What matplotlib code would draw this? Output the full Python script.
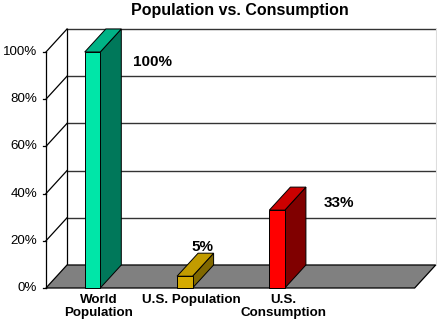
import matplotlib
matplotlib.use("Agg")
import matplotlib.pyplot as plt
from matplotlib.patches import Polygon

plt.rcParams['font.family'] = ['Liberation Sans', 'DejaVu Sans']

# data
categories = ['World\nPopulation', 'U.S. Population', 'U.S.\nConsumption']
values = [100, 5, 33]
value_labels = ['100%', '5%', '33%']
yticks = [0, 20, 40, 60, 80, 100]

# colours per bar: front, top, side
front_colors = ['#00e6a8', '#d4aa00', '#ff0000']
top_colors = ['#00b386', '#c29c00', '#cc0000']
side_colors = ['#00785a', '#806800', '#800000']

# fake 3d geometry (data units)
bar_w = 0.168
dx, dy = 0.228, 9.75
x_left = -0.504
x_right = 3.49
label_offsets = [(0.65, -4.2), (0.19, 12.4), (0.67, 3.0)]

fig = plt.figure(figsize=(4.37, 3.23), dpi=100)
ax = fig.add_axes([0, 0, 1, 1])
ax.set_xlim(-1.002, 3.732)
ax.set_ylim(-14.83, 122.03)
ax.axis('off')

grid_c = '#333333'

# back wall gridlines + left wall diagonals
for t in yticks:
    if t > 0:
        ax.plot([x_left + dx, x_right + dx + 0.02], [t + dy, t + dy], color=grid_c, lw=1.0, zorder=1)
        ax.plot([x_left, x_left + dx], [t, t + dy], color='black', lw=0.9, zorder=1)
    ax.plot([x_left - 0.035, x_left], [t, t], color='black', lw=0.9, zorder=1)
    ax.text(x_left - 0.095, t, f'{t}%', ha='right', va='center', fontsize=9.6)

# wall edges
ax.plot([x_left, x_left], [0, 100], color='black', lw=0.9, zorder=1)
ax.plot([x_left + dx, x_left + dx], [dy, 100 + dy], color='black', lw=0.9, zorder=1)
ax.plot([x_right + dx, x_right + dx], [dy, 100 + dy], color='#dddddd', lw=0.8, zorder=1)

# floor
floor = Polygon([(x_left, 0), (x_right, 0), (x_right + dx, dy), (x_left + dx, dy)],
                closed=True, facecolor='#808080', edgecolor='black', lw=0.9, zorder=2)
ax.add_patch(floor)

# bars
for i, v in enumerate(values):
    x0, x1 = i - bar_w / 2, i + bar_w / 2
    front = Polygon([(x0, 0), (x1, 0), (x1, v), (x0, v)], closed=True,
                    facecolor=front_colors[i], edgecolor='black', lw=0.7, zorder=4)
    side = Polygon([(x1, 0), (x1 + dx, dy), (x1 + dx, v + dy), (x1, v)], closed=True,
                   facecolor=side_colors[i], edgecolor='black', lw=0.7, zorder=3)
    top = Polygon([(x0, v), (x1, v), (x1 + dx, v + dy), (x0 + dx, v + dy)], closed=True,
                  facecolor=top_colors[i], edgecolor='black', lw=0.7, zorder=3)
    for p in (side, top, front):
        ax.add_patch(p)
    ox, oy = label_offsets[i]
    ax.text(i + ox, v + oy, value_labels[i], ha='center', va='center',
            fontsize=11, fontweight='bold')
    ax.text(i + 0.07, -2.4, categories[i], ha='center', va='top', multialignment='center',
            fontsize=9.6, fontweight='bold', linespacing=1.1)

fig.text(240 / 437, 1 - 11 / 323, 'Population vs. Consumption', ha='center', va='center',
         fontsize=11.5, fontweight='bold')

fig.savefig('out.png', dpi=100)
